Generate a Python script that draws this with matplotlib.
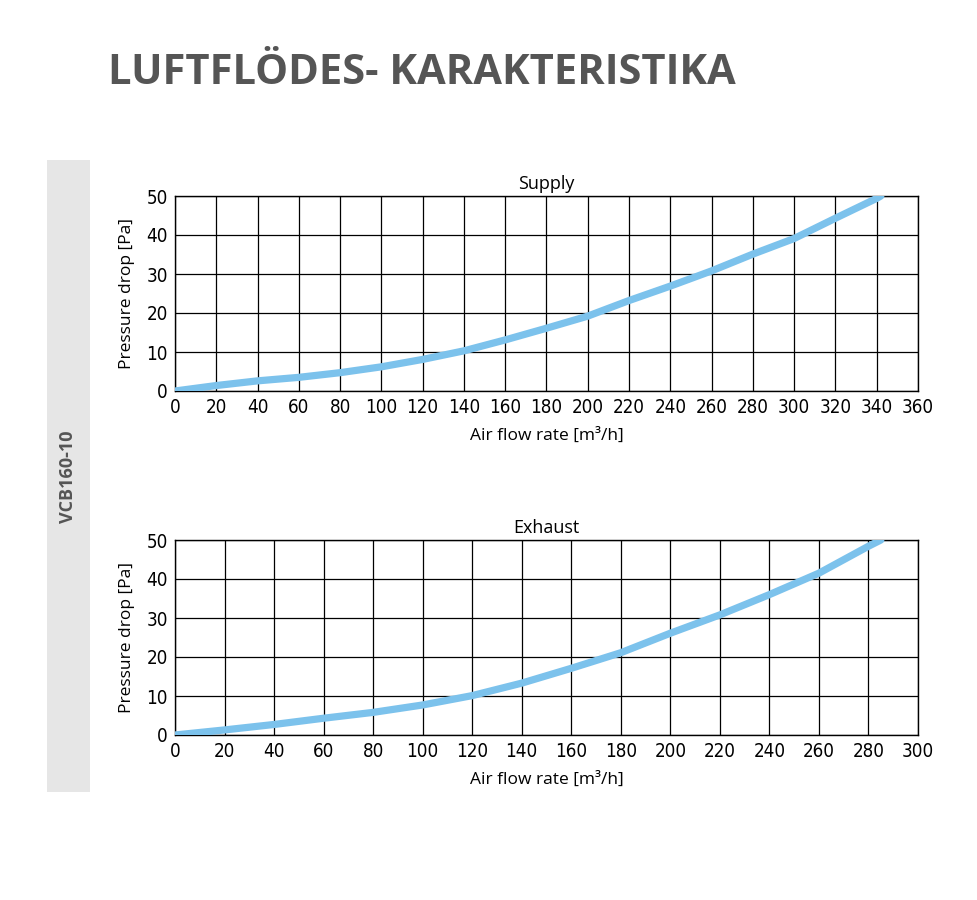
import matplotlib
matplotlib.use('Agg')
from matplotlib import pyplot as plt
from matplotlib.patches import Rectangle

# curve data
supply_flow = [0, 20, 40, 60, 80, 100, 120, 140, 160, 180, 200, 220, 240, 260, 280, 300, 320, 340, 342]
supply_dp = [0, 1.4, 2.6, 3.5, 4.7, 6.2, 8.1, 10.3, 13.1, 16.1, 19.2, 23.2, 26.9, 30.8, 35.1, 39.1, 44.3, 49.4, 50]
exhaust_flow = [0, 20, 40, 60, 80, 100, 120, 140, 160, 180, 200, 220, 240, 260, 280, 285]
exhaust_dp = [0, 1.3, 2.7, 4.3, 5.8, 7.7, 10.1, 13.3, 17.1, 21.1, 26.1, 30.8, 36.0, 41.5, 48.4, 50]

supply_xticks = list(range(0, 361, 20))
exhaust_xticks = list(range(0, 301, 20))
yticks = [0, 10, 20, 30, 40, 50]

line_col = '#7cc2ec'
grey = '#555555'

fig = plt.figure(figsize=(9.78, 9.0), dpi=100)

# titel
fig.text(108 / 978, 1 - 73 / 900, 'LUFTFLÖDES- KARAKTERISTIKA', fontsize=30, fontweight='bold',
         family='Open Sans', color=grey, ha='left', va='center')

# grey side band
fig.patches.append(Rectangle((47 / 978, 1 - 792 / 900), 43 / 978, 632 / 900,
                             transform=fig.transFigure, facecolor='#e6e6e6', edgecolor='none', zorder=0))
fig.text(68 / 978, 1 - 477 / 900, 'VCB160-10', rotation=90, fontsize=13, fontweight='bold',
         family='Open Sans', color=grey, ha='center', va='center')


def draw(ax, x, y, xticks, title):
    ax.plot(x, y, color=line_col, lw=5.2, solid_capstyle='round', solid_joinstyle='round', zorder=3)
    ax.set_xlim(xticks[0], xticks[-1])
    ax.set_ylim(0, 50)
    ax.set_xticks(xticks)
    ax.set_yticks(yticks)
    ax.grid(True, color='black', lw=0.9)
    ax.set_axisbelow(True)
    for s in ax.spines.values():
        s.set_linewidth(1.0)
    ax.tick_params(length=0, pad=5, labelsize=13.5)
    for lab in ax.get_xticklabels() + ax.get_yticklabels():
        lab.set_family('DejaVu Sans')
        lab.set_stretch('condensed')
    ax.set_title(title, fontsize=13, family='Open Sans', pad=5)
    ax.set_xlabel('Air flow rate [m³/h]', fontsize=12.5, family='Open Sans', labelpad=8)
    ax.set_ylabel('Pressure drop [Pa]', fontsize=12.5, family='Open Sans', labelpad=8)


ax1 = fig.add_axes([175 / 978, 1 - 391 / 900, 743 / 978, 195 / 900])
draw(ax1, supply_flow, supply_dp, supply_xticks, 'Supply')

ax2 = fig.add_axes([175 / 978, 1 - 735 / 900, 743 / 978, 195 / 900])
draw(ax2, exhaust_flow, exhaust_dp, exhaust_xticks, 'Exhaust')

plt.savefig('out.png', dpi=100)
